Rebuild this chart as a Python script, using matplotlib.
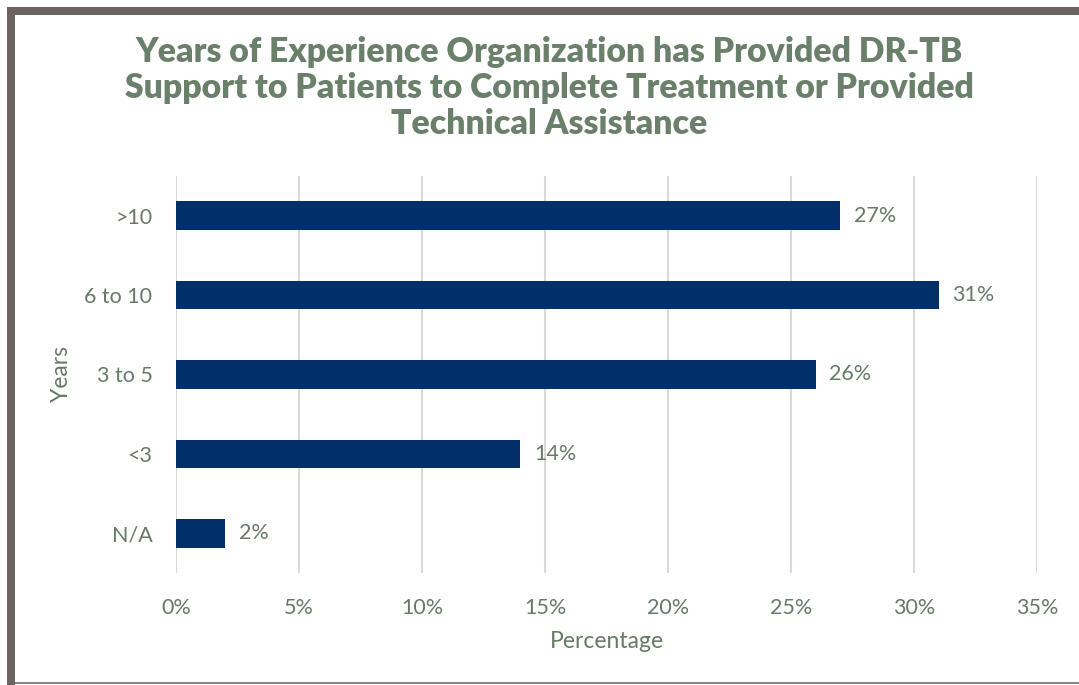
import matplotlib
matplotlib.use("Agg")
import matplotlib.pyplot as plt
from matplotlib.patches import Rectangle

categories = ["N/A", "<3", "3 to 5", "6 to 10", ">10"]
values = [2, 14, 26, 31, 27]
x_ticks = [0, 5, 10, 15, 20, 25, 30, 35]
x_tick_labels = [f"{t}%" for t in x_ticks]

TEXT = "#667a66"
BAR = "#002f6a"
GRID = "#d9d9d9"
FRAME = "#6b6461"

W, H = 1079, 685
fig = plt.figure(figsize=(W / 100, H / 100), dpi=100)
fig.patch.set_facecolor("white")

def px(x0, y0, w, h, color):
    fig.patches.append(Rectangle((x0 / W, 1 - (y0 + h) / H), w / W, h / H,
                                 transform=fig.transFigure, color=color,
                                 linewidth=0, zorder=0))

# outer frame
px(7, 7, W - 7, 8, FRAME)
px(7, 7, 8, H - 7, FRAME)
px(15, 682, W - 15, 2, "#8a8583")

ax = fig.add_axes([176 / W, (H - 573) / H, (1037 - 176) / W, (573 - 176) / H])
ypos = list(range(len(categories)))
ax.barh(ypos, values, height=0.36, color=BAR, zorder=3)
for y, v in zip(ypos, values):
    ax.text(v + 0.55, y, f"{v}%", va="center", ha="left", fontsize=15.5,
            color=TEXT, family="Lato")

ax.set_xlim(0, 35)
ax.set_ylim(-0.5, len(categories) - 0.5)
ax.set_xticks(x_ticks)
ax.set_xticklabels(x_tick_labels)
ax.set_yticks(ypos)
ax.set_yticklabels(categories)
ax.tick_params(axis="both", length=0, labelsize=15.5, labelcolor=TEXT)
ax.tick_params(axis="x", pad=18)
ax.tick_params(axis="y", pad=17)
for lab in ax.get_xticklabels() + ax.get_yticklabels():
    lab.set_family("Lato")
for s in ax.spines.values():
    s.set_visible(False)
ax.xaxis.grid(True, color=GRID, linewidth=1.5, zorder=0)
ax.set_axisbelow(True)

ax.set_xlabel("Percentage", fontsize=16.5, color=TEXT, family="Lato", labelpad=9)
ax.set_ylabel("Years", fontsize=16.5, color=TEXT, family="Lato", labelpad=9)

fig.text(549 / W, 1 - 88 / H,
         "Years of Experience Organization has Provided DR-TB\n"
         "Support to Patients to Complete Treatment or Provided\n"
         "Technical Assistance",
         ha="center", va="center", fontsize=24.3, fontweight="heavy",
         color="#6b806b", family="Lato", linespacing=1.16)

fig.savefig("out.png", dpi=100, facecolor="white")
